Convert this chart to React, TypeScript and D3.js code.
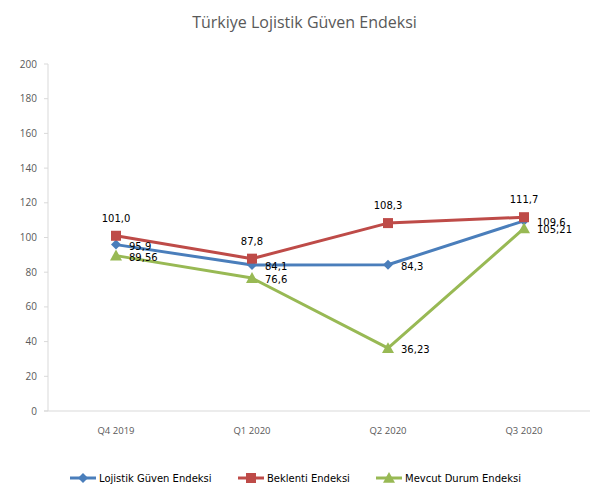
import React from "react";
import * as d3 from "d3";

const categories = ["Q4 2019", "Q1 2020", "Q2 2020", "Q3 2020"];
const seriesNames = ["Lojistik Güven Endeksi", "Beklenti Endeksi", "Mevcut Durum Endeksi"];
const lojistik = [95.9, 84.1, 84.3, 109.6];
const beklenti = [101.0, 87.8, 108.3, 111.7];
const mevcut = [89.56, 76.6, 36.23, 105.21];
const lojistikLabels = ["95,9", "84,1", "84,3", "109,6"];
const beklentiLabels = ["101,0", "87,8", "108,3", "111,7"];
const mevcutLabels = ["89,56", "76,6", "36,23", "105,21"];
const yTicks = [0, 20, 40, 60, 80, 100, 120, 140, 160, 180, 200];
const title = "Türkiye Lojistik Güven Endeksi";

const W = 609, H = 501;
const plot = { left: 48, right: 592, top: 64, bottom: 411 };

const series = [
  { name: seriesNames[0], values: lojistik, labels: lojistikLabels, color: "#4A7EBB", marker: "diamond", pos: "right" },
  { name: seriesNames[1], values: beklenti, labels: beklentiLabels, color: "#BE4B48", marker: "square", pos: "above" },
  { name: seriesNames[2], values: mevcut, labels: mevcutLabels, color: "#98B954", marker: "triangle", pos: "right" },
];

function Marker({ type, x, y, color }: { type: string; x: number; y: number; color: string }) {
  if (type === "diamond") {
    const s = 5;
    return <path d={`M${x},${y - s}L${x + s},${y}L${x},${y + s}L${x - s},${y}Z`} fill={color} />;
  }
  if (type === "square") {
    const s = 5;
    return <rect x={x - s} y={y - s} width={2 * s} height={2 * s} fill={color} />;
  }
  const s = 6;
  return <path d={`M${x},${y - s}L${x + s},${y + s * 0.8}L${x - s},${y + s * 0.8}Z`} fill={color} />;
}

export default function App() {
  const x = d3.scaleBand<string>().domain(categories).range([plot.left, plot.right]);
  const y = d3.scaleLinear().domain([0, 200]).range([plot.bottom, plot.top]);
  const cx = (c: string) => (x(c) as number) + x.bandwidth() / 2;
  const line = d3.line<number>().x((_, i) => cx(categories[i])).y((d) => y(d));
  const axisColor = "#D9D9D9";
  const textColor = "#595959";
  const labelFont = "DejaVu Sans, Verdana, sans-serif";
  const tickFont = "Open Sans, Noto Sans, sans-serif";

  const legendX = [70, 238, 376];

  return (
    <svg width={W} height={H} style={{ position: "absolute", left: 0, top: 0, background: "#fff" }}>
      <text x={W / 2} y={28} textAnchor="middle" fontFamily={tickFont} fontSize={16} fill={textColor}>
        {title}
      </text>
      {/* y axis */}
      <line x1={plot.left} x2={plot.left} y1={plot.top} y2={plot.bottom} stroke={axisColor} />
      {yTicks.map((t) => (
        <g key={t}>
          <line x1={plot.left - 4} x2={plot.left} y1={y(t)} y2={y(t)} stroke={axisColor} />
          <text x={37} y={y(t) + 3.5} textAnchor="end" fontFamily={tickFont} fontSize={10} fill={textColor}>
            {t}
          </text>
        </g>
      ))}
      {/* x axis */}
      <line x1={plot.left - 4} x2={plot.right - 2} y1={plot.bottom} y2={plot.bottom} stroke={axisColor} />
      {categories.map((c) => (
        <text key={c} x={cx(c)} y={434} textAnchor="middle" fontFamily={tickFont} fontSize={9.5} fill={textColor}>
          {c}
        </text>
      ))}
      {/* series */}
      {series.map((s) => (
        <g key={s.name}>
          <path d={line(s.values) as string} fill="none" stroke={s.color} strokeWidth={3} strokeLinejoin="round" />
          {s.values.map((v, i) => (
            <Marker key={i} type={s.marker} x={cx(categories[i])} y={y(v)} color={s.color} />
          ))}
        </g>
      ))}
      {series.map((s) =>
        s.values.map((v, i) =>
          s.pos === "above" ? (
            <text key={s.name + i} x={cx(categories[i])} y={y(v) - 14} textAnchor="middle" fontFamily={labelFont} fontSize={10} fill="#000">
              {s.labels[i]}
            </text>
          ) : (
            <text key={s.name + i} x={cx(categories[i]) + 13} y={y(v) + 5} fontFamily={labelFont} fontSize={10} fill="#000">
              {s.labels[i]}
            </text>
          )
        )
      )}
      {/* legend */}
      {series.map((s, i) => (
        <g key={s.name}>
          <line x1={legendX[i]} x2={legendX[i] + 26} y1={478} y2={478} stroke={s.color} strokeWidth={3} />
          <Marker type={s.marker} x={legendX[i] + 13} y={478} color={s.color} />
          <text x={legendX[i] + 29} y={482} fontFamily={labelFont} fontSize={10} fill="#000">
            {s.name}
          </text>
        </g>
      ))}
    </svg>
  );
}
